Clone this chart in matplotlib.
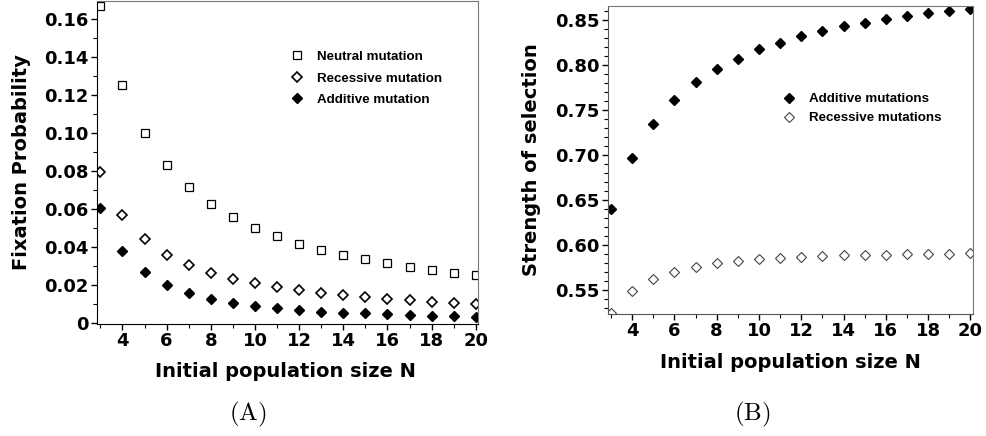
import matplotlib
matplotlib.use('Agg')
import matplotlib.pyplot as plt
from matplotlib.ticker import MultipleLocator

plt.rcParams['mathtext.fontset'] = 'cm'

# data
N = [3, 4, 5, 6, 7, 8, 9, 10, 11, 12, 13, 14, 15, 16, 17, 18, 19, 20]

neutral = [0.1667, 0.125, 0.100, 0.0833, 0.0714, 0.0625, 0.0556, 0.050, 0.0455,
           0.0417, 0.0385, 0.0357, 0.0333, 0.0313, 0.0294, 0.0278, 0.0263, 0.025]
recessive = [0.0794, 0.0566, 0.044, 0.0359, 0.0302, 0.0264, 0.0232, 0.0207, 0.0188,
             0.0172, 0.0158, 0.0145, 0.0136, 0.0127, 0.012, 0.0111, 0.0106, 0.0099]
additive = [0.0603, 0.0379, 0.0265, 0.020, 0.0154, 0.0127, 0.0104, 0.009, 0.0078,
            0.0067, 0.0058, 0.0053, 0.005, 0.0044, 0.0041, 0.0037, 0.0034, 0.003]

sel_additive = [0.6397, 0.6967, 0.734, 0.7608, 0.7808, 0.7952, 0.8065, 0.8174, 0.8248,
                0.8322, 0.838, 0.8433, 0.847, 0.8508, 0.8544, 0.8574, 0.860, 0.862]
sel_recessive = [0.5248, 0.5493, 0.5626, 0.5703, 0.5759, 0.5796, 0.5822, 0.584, 0.5856,
                 0.5867, 0.5874, 0.5885, 0.5889, 0.5893, 0.590, 0.5904, 0.5904, 0.5907]

fig = plt.figure(figsize=(9.86, 4.36), dpi=100)

label_font = dict(family='DejaVu Sans', weight='bold', size=14)
legend_font = dict(family='Liberation Sans', weight='bold', size=9.6)


def style_axes(ax, spine_col):
    for s in ['left', 'bottom']:
        ax.spines[s].set_color(spine_col)
    for s in ['top', 'right']:
        ax.spines[s].set_color('#777777')
    ax.xaxis.set_major_locator(MultipleLocator(2))
    ax.xaxis.set_minor_locator(MultipleLocator(1))
    ax.tick_params(which='major', length=4, width=1, direction='out', pad=2)
    ax.tick_params(which='minor', length=3, width=0.8, direction='out')
    for lab in ax.get_xticklabels() + ax.get_yticklabels():
        lab.set_fontfamily('DejaVu Sans')
        lab.set_fontweight('bold')
        lab.set_fontsize(13)


# panel A
ax1 = fig.add_axes([0.0984, 0.2569, 0.3864, 0.7408])
ax1.plot(N, neutral, 's', mfc='white', mec='black', ms=6, mew=0.9, label='Neutral mutation')
ax1.plot(N, recessive, 'D', mfc='white', mec='black', ms=5.5, mew=1.2, label='Recessive mutation')
ax1.plot(N, additive, 'D', mfc='black', mec='black', ms=5.5, label='Additive mutation')
ax1.set_xlim(2.85, 20.1)
ax1.set_ylim(-0.0007, 0.1695)
ax1.yaxis.set_major_locator(MultipleLocator(0.02))
ax1.yaxis.set_minor_locator(MultipleLocator(0.01))
ax1.set_xticks([4, 6, 8, 10, 12, 14, 16, 18, 20])
ax1.set_yticks([0, 0.02, 0.04, 0.06, 0.08, 0.10, 0.12, 0.14, 0.16])
ax1.set_yticklabels(['0', '0.02', '0.04', '0.06', '0.08', '0.10', '0.12', '0.14', '0.16'])
style_axes(ax1, 'black')
ax1.set_xlabel('Initial population size N', **label_font)
ax1.set_ylabel('Fixation Probability', **label_font)
ax1.xaxis.set_label_coords(0.495, -0.118)
ax1.yaxis.set_label_coords(-0.174, 0.5)
ax1.legend(loc='upper left', bbox_to_anchor=(0.477, 0.883), frameon=False,
           prop=legend_font, handletextpad=0.95, labelspacing=0.68, handlelength=1.0)

# panel B
ax2 = fig.add_axes([0.6166, 0.2798, 0.3702, 0.7064])
ax2.plot(N, sel_additive, 'D', mfc='black', mec='black', ms=5, label='Additive mutations')
ax2.plot(N, sel_recessive, 'D', mfc='white', mec='#444444', ms=5, mew=0.8, label='Recessive mutations')
ax2.set_xlim(2.86, 20.12)
ax2.set_ylim(0.5233, 0.8656)
ax2.yaxis.set_major_locator(MultipleLocator(0.05))
ax2.yaxis.set_minor_locator(MultipleLocator(0.01))
ax2.set_xticks([4, 6, 8, 10, 12, 14, 16, 18, 20])
ax2.set_yticks([0.55, 0.60, 0.65, 0.70, 0.75, 0.80, 0.85])
ax2.set_yticklabels(['0.55', '0.60', '0.65', '0.70', '0.75', '0.80', '0.85'])
style_axes(ax2, '#555555')
ax2.set_xlabel('Initial population size N', **label_font)
ax2.set_ylabel('Strength of selection', **label_font)
ax2.xaxis.set_label_coords(0.499, -0.127)
ax2.yaxis.set_label_coords(-0.184, 0.5)
ax2.legend(loc='upper left', bbox_to_anchor=(0.446, 0.756), frameon=False,
           prop=legend_font, handletextpad=1.0, labelspacing=0.5, handlelength=1.0)

fig.text(248 / 986, 1 - 414 / 436, r'$\mathrm{(A)}$', ha='center', va='center', fontsize=18)
fig.text(752 / 986, 1 - 414 / 436, r'$\mathrm{(B)}$', ha='center', va='center', fontsize=18)

fig.savefig('out.png', dpi=100)
